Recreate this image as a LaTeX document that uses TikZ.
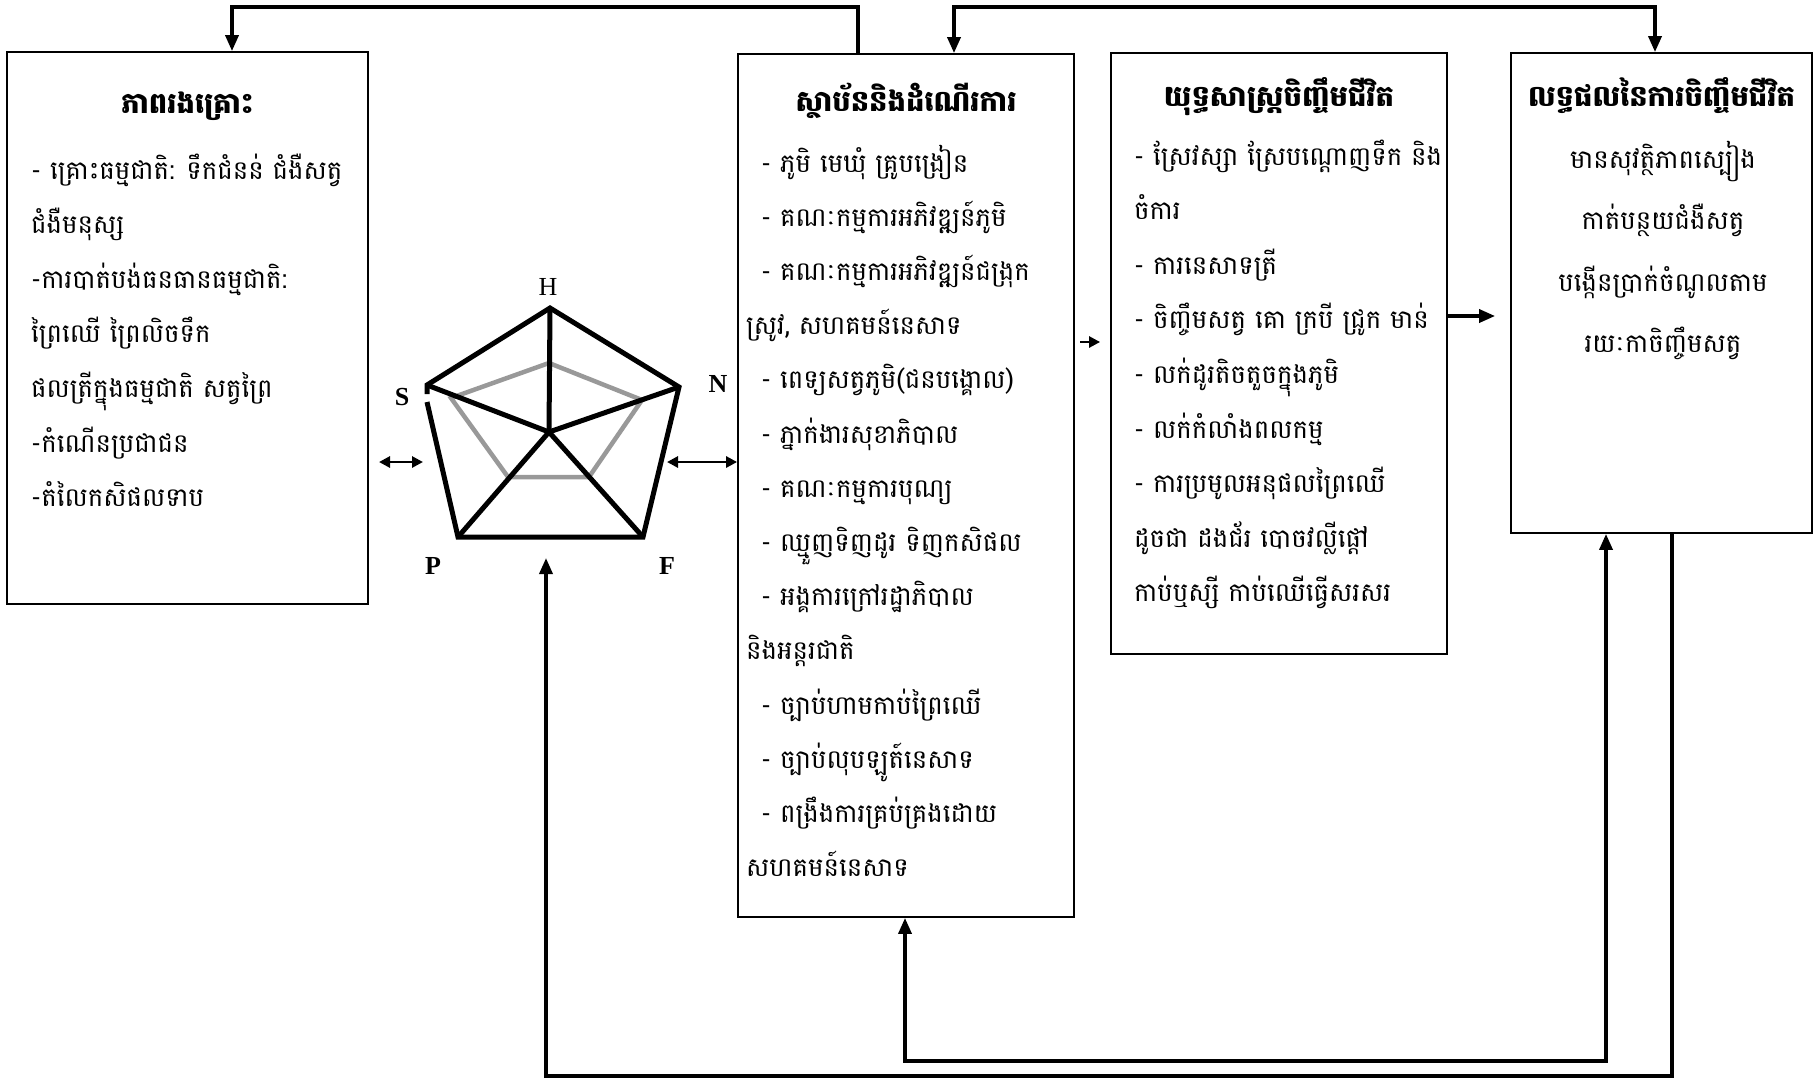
\documentclass[tikz,border=0pt]{standalone}
\usepackage{fontspec}
\setmainfont{Liberation Serif}
\newfontfamily\km[Script=Khmer]{Battambang}
\usetikzlibrary{arrows.meta}
\begin{document}
\begin{tikzpicture}[x=1pt,y=-1pt,
  box/.style={draw, line width=1.8pt, inner sep=0pt},
  kt/.style={anchor=base west, inner sep=0pt, font=\km\fontsize{26}{30}\selectfont},
  kc/.style={anchor=base, inner sep=0pt, font=\km\fontsize{26}{30}\selectfont},
  ttl/.style={anchor=base, inner sep=0pt, font=\km\bfseries\fontsize{29}{32}\selectfont},
  conn/.style={line width=3.5pt, line cap=butt, line join=miter},
  tip/.style={-{Triangle[length=16pt,width=13pt]}},
  dtip/.style={{Triangle[length=16pt,width=13pt]}-{Triangle[length=16pt,width=13pt]}},
  small/.style={line width=2.8pt, {Triangle[length=11pt,width=11pt]}-{Triangle[length=11pt,width=11pt]}},
  pblack/.style={line width=5pt, black, line cap=butt, line join=miter},
  pgray/.style={line width=4.5pt, gray!80, line join=miter},
  lab/.style={inner sep=0pt, font=\fontsize{26}{28}\selectfont},
  blab/.style={lab, font=\bfseries\fontsize{26}{28}\selectfont}
]
\useasboundingbox (0,0) rectangle (1814,1080);

% boxes
\node[box, minimum width=361pt, minimum height=552pt] (vul) at (187.5,328) {};
\node[box, minimum width=336pt, minimum height=863pt] (inst) at (906,485.5) {};
\node[box, minimum width=336pt, minimum height=601pt] (strat) at (1279,353.5) {};
\node[box, minimum width=301pt, minimum height=480pt] (outc) at (1661.5,293) {};

% titles
\node[ttl] (vt) at (187.5,113) {ភាពរងគ្រោះ};
\node[ttl] (it) at (906,111) {ស្ថាប័ននិងដំណើរការ};
\node[ttl] (st) at (1279,106) {យុទ្ធសាស្ត្រចិញ្ចឹមជីវិត};
\node[ttl] (ot) at (1661.5,106) {លទ្ធផលនៃការចិញ្ចឹមជីវិត};

% vulnerability lines
\foreach \t [count=\i from 0] in {
  {- គ្រោះធម្មជាតិ: ទឹកជំនន់ ជំងឺសត្វ},
  {ជំងឺមនុស្ស},
  {-ការបាត់បង់ធនធានធម្មជាតិ:},
  {ព្រៃឈើ  ព្រៃលិចទឹក},
  {ផលត្រីក្នុងធម្មជាតិ សត្វព្រៃ},
  {-កំណើនប្រជាជន},
  {-តំលៃកសិផលទាប}}
  \node[kt] (v\i) at (31,179+54.6*\i) {\t};

% institutions lines
\foreach \t/\x [count=\i from 0] in {
  {- ភូមិ មេឃុំ គ្រូបង្រៀន}/761,
  {- គណៈកម្មការអភិវឌ្ឍន៍ភូមិ}/761,
  {- គណៈកម្មការអភិវឌ្ឍន៍ជង្រុក}/761,
  {ស្រូវ, សហគមន៍នេសាទ}/746,
  {- ពេទ្យសត្វភូមិ(ជនបង្គោល)}/761,
  {- ភ្នាក់ងារសុខាភិបាល}/761,
  {- គណៈកម្មការបុណ្យ}/761,
  {- ឈ្មួញទិញដូរ ទិញកសិផល}/761,
  {- អង្គការក្រៅរដ្ឋាភិបាល}/761,
  {និងអន្តរជាតិ}/746,
  {- ច្បាប់ហាមកាប់ព្រៃឈើ}/761,
  {- ច្បាប់លុបឡូត៍នេសាទ}/761,
  {- ពង្រឹងការគ្រប់គ្រងដោយ}/761,
  {សហគមន៍នេសាទ}/746}
  \node[kt] (m\i) at (\x,172+54.2*\i) {\t};

% strategy lines
\foreach \t [count=\i from 0] in {
  {- ស្រែវស្សា ស្រែបណ្ដោញទឹក និង},
  {ចំការ},
  {- ការនេសាទត្រី},
  {- ចិញ្ចឹមសត្វ គោ ក្របី ជ្រូក មាន់},
  {- លក់ដូរតិចតួចក្នុងភូមិ},
  {- លក់កំលាំងពលកម្ម},
  {- ការប្រមូលអនុផលព្រៃឈើ},
  {ដូចជា ដងជ័រ បោចវល្លីផ្ដៅ},
  {កាប់ឬស្សី កាប់ឈើធ្វើសរសរ}}
  \node[kt] (s\i) at (1134,165+54.6*\i) {\t};

% outcome lines
\foreach \t [count=\i from 0] in {
  {មានសុវត្ថិភាពស្បៀង},
  {កាត់បន្ថយជំងឺសត្វ},
  {បង្កើនប្រាក់ចំណូលតាម},
  {រយៈកាចិញ្ចឹមសត្វ}}
  \node[kc] (o\i) at (1663,168+61.5*\i) {\t};

% pentagon
\coordinate (H) at (550,308);
\coordinate (S) at (427,385);
\coordinate (N) at (679,387);
\coordinate (P) at (458,537);
\coordinate (F) at (643,537);
\coordinate (O) at (549,432);
\coordinate (Sg) at (427,402);
\coordinate (Ss) at (427,394);
\draw[pgray] (549,363) -- (642,400) -- (589,477) -- (508,477) -- (451,398) -- cycle;
\draw[pblack] (Sg) -- (P) -- (F) -- (N) -- (H) -- (S) -- (Ss);
\foreach \v in {H,S,N,P,F} \draw[pblack] (O) -- (\v);
\node[lab] (lH) at (548,287) {H};
\node[blab] (lS) at (402,397) {S};
\node[blab] (lN) at (718,384) {N};
\node[blab] (lP) at (433,566) {P};
\node[blab] (lF) at (667,566) {F};

% pentagon side arrows
\coordinate (pl1) at (379,462);
\coordinate (pl2) at (423,462);
\coordinate (pr1) at (667,462);
\draw[small] (pl1) -- (pl2);
\draw[small] (pr1) -- (inst.west |- pr1);

% top connectors
\coordinate (t1) at (858,7);
\coordinate (t2) at (232,7);
\draw[conn, tip] (inst.north -| t1) -- (t1) -- (t2) -- (vul.north -| t2);
\coordinate (t3) at (954,7);
\coordinate (t4) at (1655,7);
\draw[conn, dtip] (inst.north -| t3) -- (t3) -- (t4) -- (outc.north -| t4);

% middle arrows
\coordinate (a1) at (1080,342);
\draw[line width=2.5pt, -{Triangle[length=11pt,width=11pt]}, shorten >=10pt] (a1) -- (strat.west |- a1);
\coordinate (a2) at (1447,316);
\draw[conn, tip, shorten >=15pt] (a2) -- (outc.west |- a2);

% bottom connectors
\coordinate (b1) at (1672,1076);
\coordinate (b2) at (546,1076);
\coordinate (pb) at (546,558);
\draw[conn, tip] (outc.south -| b1) -- (b1) -- (b2) -- (pb);
\coordinate (b3) at (1606,1061);
\coordinate (b4) at (905,1061);
\draw[conn, dtip] (outc.south -| b3) -- (b3) -- (b4) -- (inst.south -| b4);
\end{tikzpicture}
\end{document}
